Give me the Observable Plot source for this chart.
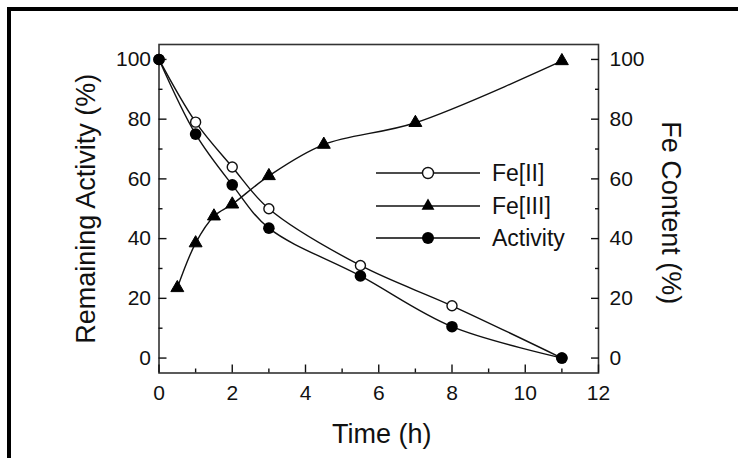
<!DOCTYPE html>
<html>
<head>
<meta charset="utf-8">
<script src="https://cdn.jsdelivr.net/npm/d3@7"></script>
<script src="https://cdn.jsdelivr.net/npm/@observablehq/plot@0.6"></script>
<style>
  html, body { margin: 0; padding: 0; background: #fff; }
  #wrap { position: relative; width: 738px; height: 458px; overflow: hidden; font-family: "Liberation Sans", Arial, sans-serif; }
  #border { position: absolute; left: 7px; top: 7px; right: -10px; bottom: -10px; border-top: 4px solid #000; border-left: 4px solid #000; }
  #legend { position: absolute; left: 0; top: 0; }
</style>
</head>
<body>
<div id="wrap"><div id="border"></div></div>
<script>
// ---- data ----
const feIITime = [0, 1, 2, 3, 5.5, 8, 11];
const feIIValue = [100, 79, 64, 50, 31, 17.5, 0];
const activityTime = [0, 1, 2, 3, 5.5, 8, 11];
const activityValue = [100, 75, 58, 43.5, 27.5, 10.5, 0];
const feIIITime = [0.5, 1, 1.5, 2, 3, 4.5, 7, 11];
const feIIIValue = [23.5, 38.5, 47.5, 51.5, 61, 71.5, 78.8, 99.5];
const seriesNames = ["Fe[II]", "Fe[III]", "Activity"];
const xMajor = [0, 2, 4, 6, 8, 10, 12];
const xMinor = [1, 3, 5, 7, 9, 11];
const yMajor = [0, 20, 40, 60, 80, 100];
const yMinor = [10, 30, 50, 70, 90];
const xTitle = "Time (h)";
const yTitle = "Remaining Activity (%)";
const y2Title = "Fe Content (%)";

const feII = feIITime.map((t, i) => ({t, v: feIIValue[i]}));
const activity = activityTime.map((t, i) => ({t, v: activityValue[i]}));
const feIII = feIIITime.map((t, i) => ({t, v: feIIIValue[i]}));

const tickFont = 21;
const titleFont = 27;

const chart = Plot.plot({
  width: 738,
  height: 458,
  marginLeft: 158.5,
  marginRight: 140,
  marginTop: 44,
  marginBottom: 85.5,
  style: { fontFamily: "'Liberation Sans', Arial, sans-serif", background: "transparent", color: "#111" },
  x: { domain: [0, 12] },
  y: { domain: [-5, 105] },
  marks: [
    Plot.frame({ stroke: "#333", strokeWidth: 1.6 }),
    // bottom axis
    Plot.axisX({ ticks: xMajor, tickSize: 0, tickPadding: 12, fontSize: tickFont, label: null, tickFormat: d => d }),
    Plot.axisX({ ticks: xMajor, tickSize: -8, fill: "none", label: null, strokeWidth: 1.4 }),
    Plot.axisX({ ticks: xMinor, tickSize: -4, fill: "none", label: null, strokeWidth: 1.4 }),
    // left axis
    Plot.axisY({ anchor: "left", ticks: yMajor, tickSize: 0, tickPadding: 8, fontSize: tickFont, label: null, tickFormat: d => d }),
    Plot.axisY({ anchor: "left", ticks: yMajor, tickSize: -8, fill: "none", label: null, strokeWidth: 1.4 }),
    Plot.axisY({ anchor: "left", ticks: yMinor, tickSize: -4, fill: "none", label: null, strokeWidth: 1.4 }),
    // right axis
    Plot.axisY({ anchor: "right", ticks: yMajor, tickSize: 0, tickPadding: 11, fontSize: tickFont, label: null, tickFormat: d => d }),
    Plot.axisY({ anchor: "right", ticks: yMajor, tickSize: -8, fill: "none", label: null, strokeWidth: 1.4 }),
    Plot.axisY({ anchor: "right", ticks: yMinor, tickSize: -4, fill: "none", label: null, strokeWidth: 1.4 }),
    // titles
    Plot.text([xTitle], { frameAnchor: "bottom", text: d => d, textAnchor: "middle", lineAnchor: "middle", dx: 3, dy: 61, fontSize: titleFont, fill: "#111" }),
    Plot.text([yTitle], { frameAnchor: "left", text: d => d, textAnchor: "middle", lineAnchor: "middle", dx: -73, rotate: -90, fontSize: titleFont, fill: "#111" }),
    Plot.text([y2Title], { frameAnchor: "right", text: d => d, textAnchor: "middle", lineAnchor: "middle", dx: 72, dy: 4, rotate: 90, fontSize: titleFont, fill: "#111" }),
    // lines
    Plot.line(feIII, { x: "t", y: "v", curve: "catmull-rom", stroke: "#111", strokeWidth: 1.4 }),
    Plot.line(feII, { x: "t", y: "v", curve: "catmull-rom", stroke: "#111", strokeWidth: 1.4 }),
    Plot.line(activity, { x: "t", y: "v", curve: "catmull-rom", stroke: "#111", strokeWidth: 1.4 }),
    // markers
    Plot.dot(feIII, { x: "t", y: "v", symbol: "triangle", r: 4.8, fill: "#000", stroke: "#000", strokeWidth: 1 }),
    Plot.dot(feII, { x: "t", y: "v", symbol: "circle", r: 5, fill: "#fff", stroke: "#111", strokeWidth: 1.4 }),
    Plot.dot(activity, { x: "t", y: "v", symbol: "circle", r: 5.8, fill: "#000", stroke: "none" })
  ]
});

const wrap = document.getElementById("wrap");
wrap.insertBefore(chart, wrap.firstChild);

// legend overlay
const legend = d3.select(wrap).append("svg")
  .attr("id", "legend")
  .attr("width", 738).attr("height", 458)
  .style("font-family", "'Liberation Sans', Arial, sans-serif");
const rowsY = [173, 206, 238];
seriesNames.forEach((name, i) => {
  const g = legend.append("g").attr("transform", `translate(0,${rowsY[i]})`);
  g.append("line").attr("x1", 376).attr("x2", 480).attr("y1", 0).attr("y2", 0)
    .attr("stroke", i === 2 ? "#444" : "#111").attr("stroke-width", i === 2 ? 2 : 1.4);
  if (i === 0) {
    g.append("circle").attr("cx", 428).attr("cy", 0).attr("r", 5.5).attr("fill", "#fff").attr("stroke", "#111").attr("stroke-width", 1.4);
  } else if (i === 1) {
    g.append("path").attr("transform", "translate(428,0)").attr("d", d3.symbol(d3.symbolTriangle, Math.PI * 4.8 * 4.8)()).attr("fill", "#000");
  } else {
    g.append("circle").attr("cx", 428).attr("cy", 0).attr("r", 6).attr("fill", "#000");
  }
  g.append("text").attr("x", 492).attr("y", 0).attr("dy", "0.35em")
    .attr("font-size", 23).attr("fill", "#111").text(name);
});
</script>
</body>
</html>
